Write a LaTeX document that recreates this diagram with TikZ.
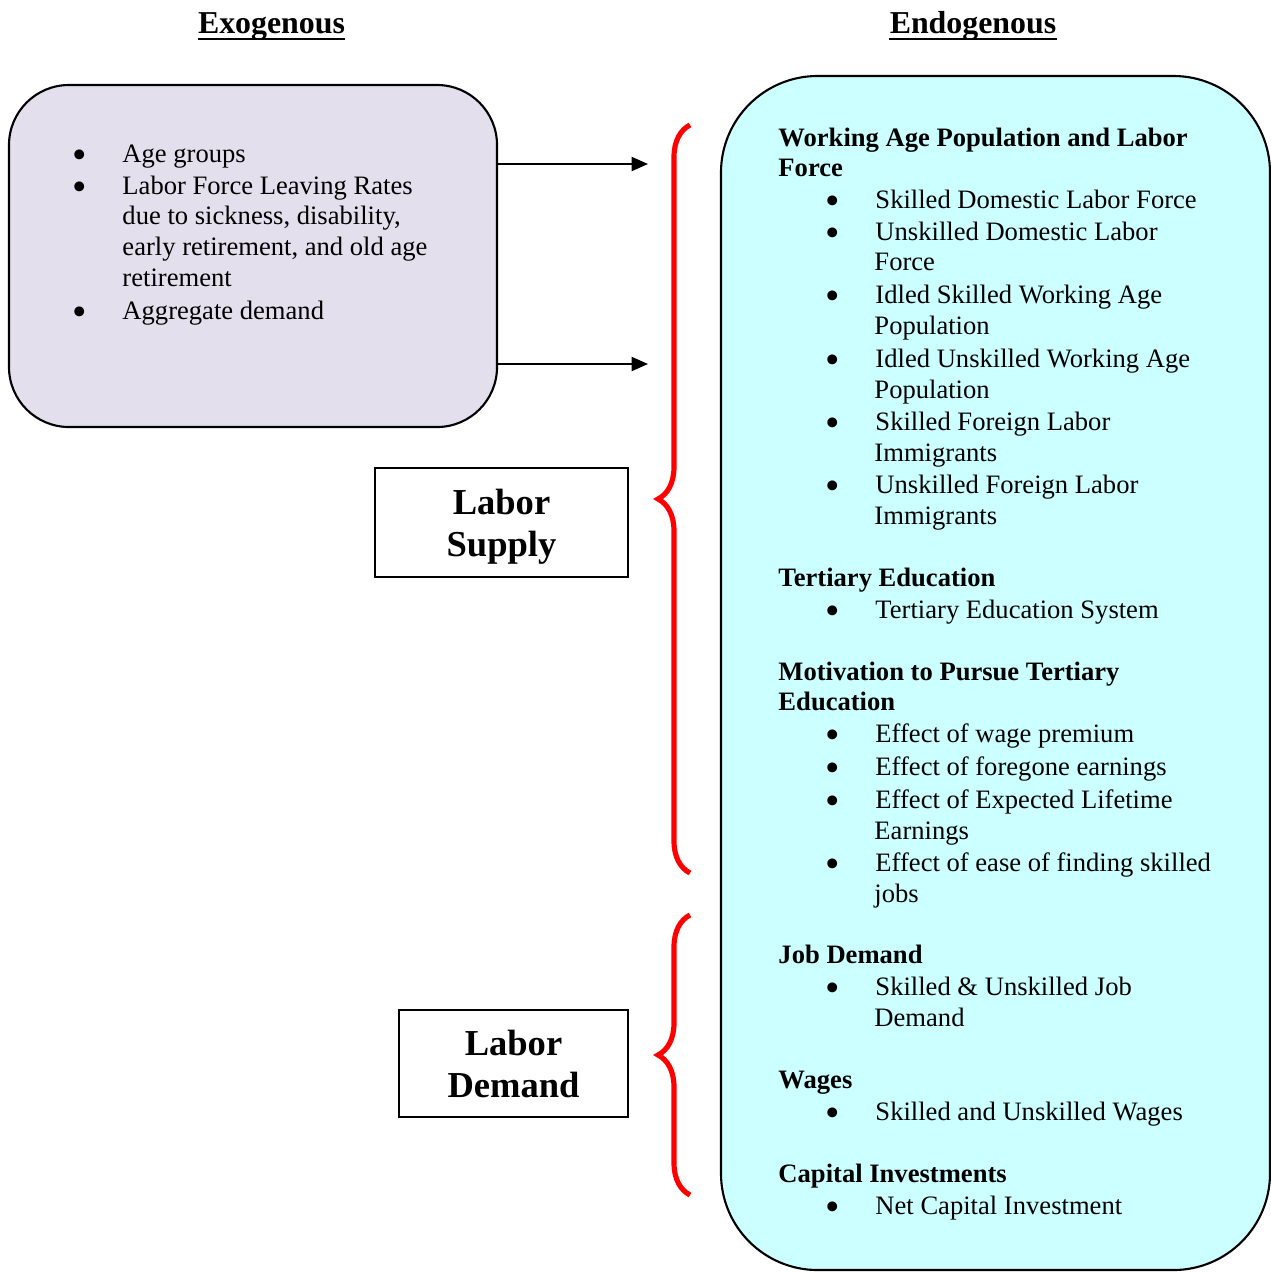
\documentclass[tikz,border=0pt]{standalone}
\usepackage{fontspec}
\setmainfont{Liberation Serif}
\usetikzlibrary{arrows.meta,decorations.pathreplacing,positioning}
\definecolor{exofill}{RGB}{228,223,236}
\definecolor{endofill}{RGB}{204,255,255}
\newcommand{\bitem}{\makebox[0.75cm][l]{\smash{\raisebox{-2.7pt}{\scalebox{1.55}{\textbullet}}}}}

\begin{document}
\begin{tikzpicture}[x=0.015cm,y=-0.015cm,
  every node/.style={inner sep=0pt,font=\fontsize{11.35}{13.36}\selectfont},
  txt/.style={anchor=base west},
  head/.style={anchor=base west,font=\fontsize{11.35}{13.36}\selectfont\bfseries},
  title/.style={anchor=base,font=\fontsize{13.6}{16}\selectfont\bfseries},
  exobox/.style={draw,line width=0.9pt,fill=exofill,rounded corners=0.9cm,
    minimum width=7.32cm,minimum height=5.13cm},
  endobox/.style={draw,line width=0.9pt,fill=endofill,rounded corners=1.45cm,
    minimum width=8.235cm,minimum height=17.91cm},
  labbox/.style={draw,line width=0.9pt,fill=white,align=center,text depth=0pt,
    font=\fontsize{15.6}{17.9}\selectfont\bfseries},
  flow/.style={line width=0.85pt,-{Triangle[length=7pt,width=6pt]}},
  brace/.style={red,line width=2.2pt,decorate,decoration={brace,amplitude=0.48cm}}]
\useasboundingbox (0,0) rectangle (1271,1272);

% titles
\node[title] (exotitle) at (271.5,33) {Exogenous};
\node[title] (endotitle) at (973,33) {Endogenous};
\draw[line width=0.9pt] ([yshift=-2.6pt]exotitle.base west) -- ([yshift=-2.6pt]exotitle.base east);
\draw[line width=0.9pt] ([yshift=-2.6pt]endotitle.base west) -- ([yshift=-2.6pt]endotitle.base east);

% boxes
\node[exobox] (exo) at (253,256) {};
\node[endobox] (endo) at (995.5,673) {};
\node[labbox,minimum width=3.795cm,minimum height=1.635cm] (supply) at (501.5,522.5) {Labor\\Supply};
\node[labbox,minimum width=3.435cm,minimum height=1.605cm] (demand) at (513.5,1063.5) {Labor\\Demand};

% arrows
\coordinate (a1) at (648,164);
\coordinate (a2) at (648,364);
\draw[flow] (exo.east |- a1) -- (a1);
\draw[flow] (exo.east |- a2) -- (a2);

% braces
\draw[brace] (690,873) -- (690,125);
\draw[brace] (690,1195) -- (690,915);

% exogenous list
\node[txt] (l1) at (72,162) {\bitem Age groups};
\node[txt] (l2) at (72,194) {\bitem Labor Force Leaving Rates};
\node[txt] (l3) at (122,224) {due to sickness, disability,};
\node[txt] (l4) at (122,255) {early retirement, and old age};
\node[txt] (l5) at (122,286) {retirement};
\node[txt] (l6) at (72,319) {\bitem Aggregate demand};

% endogenous list
\node[head] (r1) at (778,146) {Working Age Population and Labor};
\node[head] (r2) at (778,176) {Force};
\node[txt] (r3) at (825,208) {\bitem Skilled Domestic Labor Force};
\node[txt] (r4) at (825,240) {\bitem Unskilled Domestic Labor};
\node[txt] (r5) at (874,270) {Force};
\node[txt] (r6) at (825,303) {\bitem Idled Skilled Working Age};
\node[txt] (r7) at (874,334) {Population};
\node[txt] (r8) at (825,367) {\bitem Idled Unskilled Working Age};
\node[txt] (r9) at (874,398) {Population};
\node[txt] (r10) at (825,430) {\bitem Skilled Foreign Labor};
\node[txt] (r11) at (874,461) {Immigrants};
\node[txt] (r12) at (825,493) {\bitem Unskilled Foreign Labor};
\node[txt] (r13) at (874,524) {Immigrants};
\node[head] (r14) at (778,586) {Tertiary Education};
\node[txt] (r15) at (825,618) {\bitem Tertiary Education System};
\node[head] (r16) at (778,680) {Motivation to Pursue Tertiary};
\node[head] (r17) at (778,710) {Education};
\node[txt] (r18) at (825,742) {\bitem Effect of wage premium};
\node[txt] (r19) at (825,775) {\bitem Effect of foregone earnings};
\node[txt] (r20) at (825,808) {\bitem Effect of Expected Lifetime};
\node[txt] (r21) at (874,839) {Earnings};
\node[txt] (r22) at (825,871) {\bitem Effect of ease of finding skilled};
\node[txt] (r23) at (874,902) {jobs};
\node[head] (r24) at (778,963) {Job Demand};
\node[txt] (r25) at (825,995) {\bitem Skilled \& Unskilled Job};
\node[txt] (r26) at (874,1026) {Demand};
\node[head] (r27) at (778,1088) {Wages};
\node[txt] (r28) at (825,1120) {\bitem Skilled and Unskilled Wages};
\node[head] (r29) at (778,1182) {Capital Investments};
\node[txt] (r30) at (825,1214) {\bitem Net Capital Investment};
\end{tikzpicture}
\end{document}
